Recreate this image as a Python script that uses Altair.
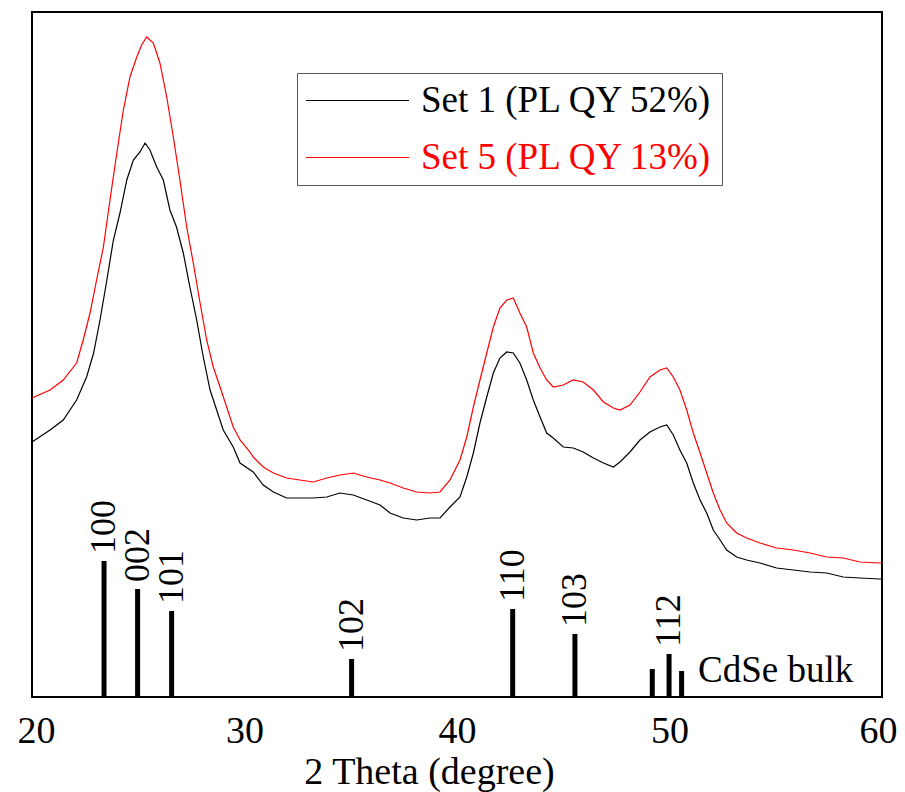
import altair as alt
import pandas as pd

FONT = "Liberation Serif"

# Set 1 (PL QY 52%) - black curve
angle_set1 = [20.0, 20.85, 21.47, 22.1, 22.57, 22.9, 23.2, 23.5, 23.83, 24.14, 24.46, 24.77,
              25.08, 25.32, 25.55, 25.87, 26.18, 26.49, 26.8, 27.12, 27.43, 27.75, 28.06,
              28.38, 28.69, 29.0, 29.47, 29.79, 30.41, 30.88, 31.36, 31.98, 32.6, 33.24,
              33.87, 34.49, 35.12, 35.75, 36.38, 36.85, 37.47, 38.1, 38.73, 39.2, 39.67,
              40.14, 40.46, 40.77, 41.08, 41.4, 41.71, 42.02, 42.34, 42.65, 42.96, 43.28,
              43.59, 43.91, 44.22, 44.53, 45.0, 45.47, 45.94, 46.42, 46.89, 47.36, 47.67,
              48.14, 48.61, 49.08, 49.55, 49.87, 50.18, 50.49, 50.81, 51.12, 51.44, 51.75,
              52.06, 52.38, 52.69, 53.16, 53.63, 54.26, 55.04, 55.83, 56.61, 57.4, 58.18,
              58.96, 59.9, 60.0]
int_set1 = [255, 267, 277, 297, 320, 344, 377, 414, 457, 484, 517, 537,
            545, 554, 547, 530, 517, 487, 470, 444, 410, 377, 340,
            307, 287, 267, 250, 234, 225, 212, 205, 199, 199, 199,
            200, 204, 202, 197, 192, 184, 179, 177, 179, 179, 190,
            200, 220, 244, 274, 300, 324, 339, 345, 344, 334, 317,
            297, 280, 264, 259, 250, 249, 245, 239, 234, 230, 235,
            245, 257, 265, 270, 272, 262, 247, 234, 214, 197, 184,
            167, 157, 147, 140, 137, 134, 129, 127, 125, 124, 120,
            119, 118, 118]

# Set 5 (PL QY 13%) - red curve
angle_set5 = [20.0, 20.85, 21.47, 22.1, 22.41, 22.73, 23.04, 23.36, 23.67, 23.99, 24.3, 24.61,
              24.93, 25.16, 25.4, 25.71, 26.02, 26.34, 26.65, 26.96, 27.28, 27.59, 27.91,
              28.22, 28.53, 28.85, 29.16, 29.47, 29.79, 30.26, 30.41, 30.88, 31.36, 31.98,
              32.6, 33.24, 33.87, 34.49, 35.12, 35.75, 36.38, 36.85, 37.47, 38.1, 38.73,
              39.2, 39.67, 40.14, 40.46, 40.77, 41.08, 41.4, 41.71, 42.02, 42.34, 42.65,
              42.96, 43.28, 43.59, 43.91, 44.22, 44.53, 45.0, 45.47, 45.94, 46.42, 46.89,
              47.36, 47.67, 48.14, 48.61, 49.08, 49.55, 49.87, 50.18, 50.49, 50.81, 51.12,
              51.44, 51.75, 52.06, 52.38, 52.69, 53.16, 53.63, 54.26, 55.04, 55.83, 56.61,
              57.4, 58.18, 58.96, 59.9, 60.0]
int_set5 = [299, 307, 317, 334, 357, 384, 417, 450, 497, 544, 587, 620,
            640, 652, 660, 654, 634, 600, 560, 517, 470, 434, 394,
            357, 330, 310, 290, 270, 257, 245, 240, 230, 224, 219,
            217, 215, 219, 222, 224, 220, 217, 214, 209, 205, 204,
            205, 217, 237, 260, 290, 317, 344, 370, 389, 397, 399,
            384, 370, 344, 329, 317, 310, 312, 317, 315, 307, 295,
            289, 287, 292, 305, 320, 327, 329, 320, 307, 287, 264,
            244, 224, 204, 187, 174, 164, 159, 154, 149, 147, 144,
            140, 139, 135, 134, 134]

series_names = ["Set 1 (PL QY 52%)", "Set 5 (PL QY 13%)"]
series_colors = ["#000000", "#ff0000"]

# CdSe bulk reference pattern
ref_hkl = ["100", "002", "101", "102", "110", "103", "", "112", ""]
ref_pos = [23.39, 24.97, 26.57, 35.04, 42.62, 45.55, 49.19, 49.98, 50.57]
ref_int = [136, 108, 86, 38, 88, 63, 28, 43, 26]

ref_label = ["CdSe bulk"]
ref_label_x = [51.34]
ref_label_y = [15]

x_ticks = [20, 30, 40, 50, 60]

curves = pd.concat([
    pd.DataFrame({"angle": angle_set1, "intensity": int_set1, "series": series_names[0]}),
    pd.DataFrame({"angle": angle_set5, "intensity": int_set5, "series": series_names[1]}),
])
ref = pd.DataFrame({"pos": ref_pos, "height": ref_int, "hkl": ref_hkl, "base": 0})
lab = pd.DataFrame({"x": ref_label_x, "y": ref_label_y, "text": ref_label})

xscale = alt.Scale(domain=[20, 60], nice=False)
yscale = alt.Scale(domain=[0, 685], nice=False)

xaxis = alt.Axis(
    values=x_ticks, format="d", title="2 Theta (degree)", grid=False, domain=False,
    ticks=False, tickSize=0, labelFont=FONT, labelFontSize=38, labelColor="black",
    labelBaseline="alphabetic", labelPadding=45,
    labelFlush=True, labelFlushOffset=15,
    titleFont=FONT, titleFontSize=38, titleFontWeight="normal", titleColor="black",
    titleX=397, titleY=86, titleAlign="center", titleBaseline="alphabetic",
)

label_color_expr = "datum.value === '" + series_names[1] + "' ? '" + series_colors[1] + "' : '" + series_colors[0] + "'"

lines = alt.Chart(curves).mark_line(strokeWidth=1.2, interpolate="linear").encode(
    x=alt.X("angle:Q", scale=xscale, axis=xaxis),
    y=alt.Y("intensity:Q", scale=yscale, axis=None),
    color=alt.Color(
        "series:N",
        scale=alt.Scale(domain=series_names, range=series_colors),
        legend=alt.Legend(
            orient="none", legendX=265, legendY=61, title=None,
            symbolType="M-1.85,0H8.45", symbolSize=400, symbolStrokeWidth=1.2,
            labelFont=FONT, labelFontSize=37, labelOffset=78, labelLimit=0,
            rowPadding=19, padding=9, strokeColor="#555555", fillColor="white",
            labelColor={"expr": label_color_expr},
        ),
    ),
    order=alt.Order("angle:Q"),
)

bars = alt.Chart(ref).mark_rule(strokeWidth=5, color="black").encode(
    x=alt.X("pos:Q", scale=xscale),
    y=alt.Y("base:Q", scale=yscale),
    y2="height:Q",
)

hkl_text = alt.Chart(ref).transform_filter("datum.hkl != ''").mark_text(
    angle=270, align="left", baseline="middle", dx=7, font=FONT, fontSize=36, color="black"
).encode(
    x=alt.X("pos:Q", scale=xscale),
    y=alt.Y("height:Q", scale=yscale),
    text="hkl:N",
)

bulk_text = alt.Chart(lab).mark_text(
    align="left", baseline="alphabetic", font=FONT, fontSize=37, color="black"
).encode(
    x=alt.X("x:Q", scale=xscale),
    y=alt.Y("y:Q", scale=yscale),
    text="text:N",
)

chart = alt.layer(lines, bars, hkl_text, bulk_text).properties(
    width=850, height=685,
    background="white",
    autosize=alt.AutoSizeParams(type="none"),
    padding={"left": 24, "top": 4, "right": 15, "bottom": 95},
).configure_view(stroke="black", strokeWidth=2)

chart.save("out.html", embed_options={"renderer": "svg", "actions": False})
